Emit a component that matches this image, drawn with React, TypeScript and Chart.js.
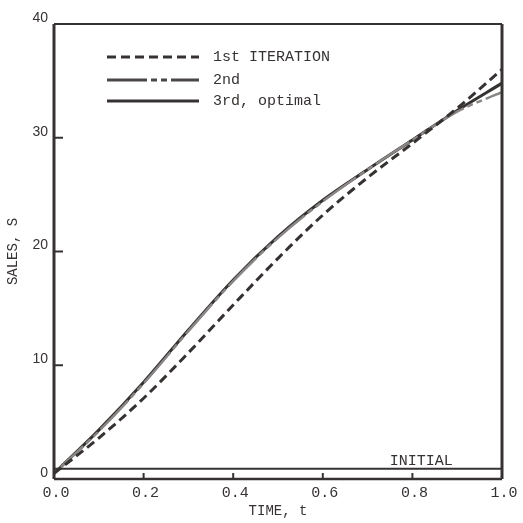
import React, { useEffect, useRef } from "react";
import { Chart, registerables } from "chart.js";

Chart.register(...registerables);

const times = [0, 0.1, 0.2, 0.3, 0.4, 0.5, 0.6, 0.7, 0.8, 0.9, 1.0];
const firstIteration = [0.5, 3.6, 7.1, 11.1, 15.3, 19.4, 23.2, 26.5, 29.5, 32.6, 36.0];
const secondIteration = [0.5, 4.2, 8.4, 13.0, 17.4, 21.2, 24.4, 27.2, 29.8, 32.3, 34.0];
const thirdOptimal = [0.5, 4.3, 8.5, 13.1, 17.5, 21.3, 24.5, 27.2, 29.8, 32.4, 34.8];
const initialSales = [0.9, 0.9, 0.9, 0.9, 0.9, 0.9, 0.9, 0.9, 0.9, 0.9, 0.9];
const xTicks = [0, 0.2, 0.4, 0.6, 0.8, 1.0];
const yTicks = [0, 10, 20, 30, 40];
const legendLabels = ["1st ITERATION", "2nd", "3rd, optimal"];
const initialLabel = "INITIAL";
const initialLabelPos = { t: 0.82, s: 0.9 };

const MONO = "'Liberation Mono', 'DejaVu Sans Mono', monospace";
const SANS = "'Liberation Sans', Arial, sans-serif";
const INK = "#363232";

const pts = (ys: number[]) => times.map((t, i) => ({ x: t, y: ys[i] }));

const DASH1 = [9, 5];
const DASH2 = [40, 4, 6, 4, 6, 4];

export default function App() {
  const ref = useRef<HTMLCanvasElement | null>(null);
  useEffect(() => {
    if (!ref.current) return;
    const framePlugin = {
      id: "frame",
      afterDatasetsDraw(chart: any) {
        const { ctx, chartArea: a, scales } = chart;
        const xs = scales.x;
        const ys = scales.y;
        ctx.save();
        ctx.strokeStyle = INK;
        ctx.setLineDash([]);
        ctx.lineWidth = 2;
        ctx.beginPath();
        ctx.moveTo(a.left, a.top);
        ctx.lineTo(a.right, a.top);
        ctx.stroke();
        ctx.lineWidth = 2.5;
        ctx.beginPath();
        ctx.moveTo(a.left, a.bottom);
        ctx.lineTo(a.right, a.bottom);
        ctx.stroke();
        ctx.lineWidth = 3;
        ctx.beginPath();
        ctx.moveTo(a.left, a.top);
        ctx.lineTo(a.left, a.bottom);
        ctx.moveTo(a.right, a.top);
        ctx.lineTo(a.right, a.bottom);
        ctx.stroke();
        ctx.lineWidth = 2;
        for (const v of yTicks.slice(1, -1)) {
          const py = ys.getPixelForValue(v);
          ctx.beginPath();
          ctx.moveTo(a.left, py);
          ctx.lineTo(a.left + 9, py);
          ctx.stroke();
        }
        for (const v of xTicks.slice(1, -1)) {
          const px = xs.getPixelForValue(v);
          ctx.beginPath();
          ctx.moveTo(px, a.bottom);
          ctx.lineTo(px, a.bottom - 6);
          ctx.stroke();
        }
        ctx.fillStyle = INK;
        ctx.font = `15px ${MONO}`;
        ctx.textAlign = "center";
        ctx.textBaseline = "alphabetic";
        ctx.fillText(initialLabel, xs.getPixelForValue(initialLabelPos.t), ys.getPixelForValue(initialLabelPos.s) - 4);
        ctx.textBaseline = "middle";
        const rows = [
          { dash: DASH1, color: INK, w: 3 },
          { dash: DASH2, color: "#4a4646", w: 3 },
          { dash: [], color: INK, w: 3 },
        ];
        const rowY = [33, 56, 77];
        rows.forEach((r, i) => {
          const y = a.top + rowY[i];
          ctx.strokeStyle = r.color;
          ctx.lineWidth = r.w;
          ctx.setLineDash(r.dash);
          ctx.beginPath();
          ctx.moveTo(a.left + 53, y);
          ctx.lineTo(a.left + 145, y);
          ctx.stroke();
          ctx.setLineDash([]);
          ctx.textAlign = "left";
          ctx.fillText(legendLabels[i], a.left + 159, y);
        });
        ctx.restore();
      },
    };

    const chart = new Chart(ref.current, {
      type: "line",
      data: {
        datasets: [
          {
            label: "INITIAL",
            data: pts(initialSales),
            borderColor: INK,
            borderWidth: 2,
            pointRadius: 0,
          },
          {
            label: legendLabels[0],
            data: pts(firstIteration),
            borderColor: INK,
            borderWidth: 3,
            borderDash: DASH1,
            pointRadius: 0,
            cubicInterpolationMode: "monotone",
          },
          {
            label: legendLabels[1],
            data: pts(secondIteration),
            borderColor: "#8a8686",
            borderWidth: 2.5,
            borderDash: DASH2,
            pointRadius: 0,
            cubicInterpolationMode: "monotone",
          },
          {
            label: legendLabels[2],
            data: pts(thirdOptimal),
            borderColor: INK,
            borderWidth: 3,
            pointRadius: 0,
            cubicInterpolationMode: "monotone",
          },
        ],
      },
      options: {
        animation: false,
        responsive: false,
        maintainAspectRatio: false,
        layout: { padding: { top: 24, right: 21, left: 0, bottom: 0 } },
        plugins: { legend: { display: false }, tooltip: { enabled: false } },
        scales: {
          x: {
            type: "linear",
            min: 0,
            max: 1,
            afterFit: (s: any) => {
              s.height = 44;
            },
            afterBuildTicks: (s: any) => {
              s.ticks = xTicks.map((v) => ({ value: v }));
            },
            grid: { display: false, drawTicks: false },
            border: { display: false },
            ticks: {
              color: INK,
              font: { family: MONO, size: 15 },
              padding: 5,
              labelOffset: 2,
              maxRotation: 0,
              callback: (v: any) => Number(v).toFixed(1),
            },
            title: {
              display: true,
              text: "TIME, t",
              color: INK,
              font: { family: MONO, size: 14 },
              padding: { top: 0, bottom: 3 },
            },
          },
          y: {
            min: 0,
            max: 40,
            afterFit: (s: any) => {
              s.width = 54;
            },
            afterBuildTicks: (s: any) => {
              s.ticks = yTicks.map((v) => ({ value: v }));
            },
            grid: { display: false, drawTicks: false },
            border: { display: false },
            ticks: {
              color: INK,
              font: { family: SANS, size: 14 },
              padding: 6,
              labelOffset: -6,
            },
            title: {
              display: true,
              text: "SALES, S",
              color: INK,
              font: { family: MONO, size: 14 },
              padding: { top: 5, bottom: 0 },
            },
          },
        },
      },
      plugins: [framePlugin],
    } as any);
    return () => chart.destroy();
  }, []);
  return (
    <div style={{ position: "fixed", left: 0, top: 0, width: 523, height: 523, background: "#fff" }}>
      <canvas ref={ref} width={523} height={523} style={{ width: 523, height: 523, display: "block" }} />
    </div>
  );
}
